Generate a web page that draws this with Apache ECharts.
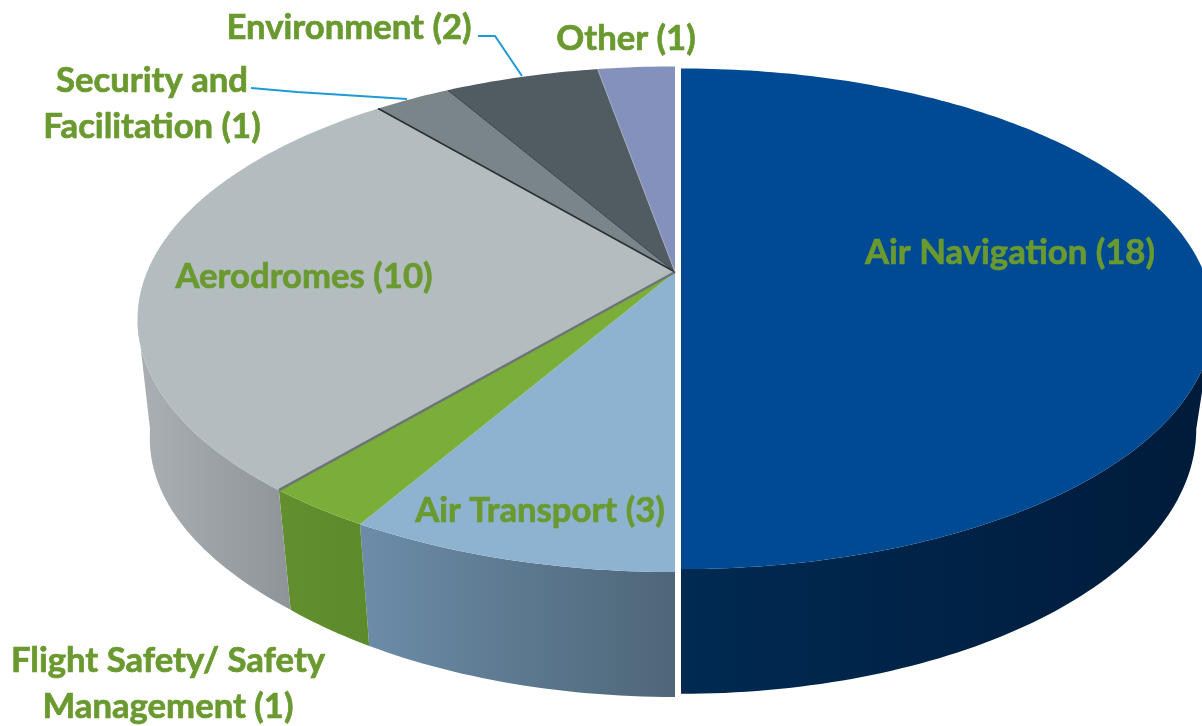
<!DOCTYPE html>
<html>
<head>
<meta charset="utf-8">
<title>Topics</title>
<script src="https://cdn.jsdelivr.net/npm/echarts@6/dist/echarts.min.js"></script>
<style>
    html, body { margin: 0; padding: 0; background: #fff; }
    #main { width: 1202px; height: 726px; }
</style>
</head>
<body>
<div id="main"></div>
<script>
const categories = ['Air Navigation', 'Air Transport', 'Flight Safety/ Safety\nManagement', 'Aerodromes', 'Security and\nFacilitation', 'Environment', 'Other'];
const values = [18, 3, 1, 10, 1, 2, 1];

const topColors = ['#004a94', '#8db3d1', '#7aae38', '#b3bcbf', '#7a858a', '#505b62', '#8491bd'];
const wallColors = [
    ['#002a52', '#001b3a'],
    ['#6c8ca8', '#4e6678'],
    ['#638f2e', '#5d8a2a'],
    ['#abb0b4', '#8e9498'],
    ['#666', '#666'],
    ['#444', '#444'],
    ['#667', '#667']
];
// line on the starting edge of each slice
const edgeColors = [null, null, null, '#6d7478', '#2a3035', '#3a4247', '#a3abbd'];
const edgeWidths = [0, 0, 0, 2.5, 1.6, 1, 1];

// where each label sits, same order as categories
const labelAt = [[1010, 253], [540, 511], [168, 684], [304, 277], [152, 104], [349, 28], [626, 39]];
const leaderLines = [
    [[251, 88], [297, 92], [407, 99]],
    [[478, 36], [495, 36], [522, 76]]
];

// tilted disc: apex of the top face and of the lower rim, with perspective
const topFace = { cx: 675, cy: 272, rx: 528, ry: 244, p: 0.187 };
const bottomFace = { cx: 675, cy: 378.5, rx: 511, ry: 258, p: 0.19 };
const offsetX = [6, 0, 0, 0, 0, 0, 0];
const sliceScale = [0.99, 1, 1, 1, 1, 1, 1];
// lower rim of the left side runs a bit wider than the fitted ellipse
const leftBulge = 7;

const total = values.reduce((a, b) => a + b, 0);

function project(face, deg, i) {
    let a = deg * Math.PI / 180;
    let u = Math.sin(a);
    let v = -Math.cos(a);
    let w = 1 - face.p * v;
    let x = face.cx + offsetX[i] + sliceScale[i] * face.rx * u / w;
    let y = face.cy + sliceScale[i] * face.ry * v / w;
    if (face === bottomFace && deg > 220 && deg < 270) {
        x -= leftBulge * Math.sin(Math.PI * (deg - 220) / 50);
    }
    return [x, y];
}

function arc(face, from, to, i) {
    let pts = [];
    let steps = Math.max(2, Math.ceil(Math.abs(to - from)));
    for (let s = 0; s <= steps; s++) {
        pts.push(project(face, from + (to - from) * s / steps, i));
    }
    return pts;
}

function sliceRange(i) {
    let before = values.slice(0, i).reduce((a, b) => a + b, 0);
    return [before / total * 360, (before + values[i]) / total * 360];
}

function renderWall(params, api) {
    let i = api.value(0);
    let [from, to] = sliceRange(i);
    from = Math.max(from, 101);
    to = Math.min(to, 259);
    if (from >= to) return { type: 'group', children: [] };
    let pts = arc(topFace, from, to, i).concat(arc(bottomFace, to, from, i));
    let xs = pts.map(d => d[0]);
    return {
        type: 'polygon',
        shape: { points: pts },
        style: {
            fill: new echarts.graphic.LinearGradient(Math.min(...xs), 0, Math.max(...xs), 0, [
                { offset: 0, color: wallColors[i][0] },
                { offset: 1, color: wallColors[i][1] }
            ], true)
        }
    };
}

function renderTop(params, api) {
    let i = api.value(0);
    let [from, to] = sliceRange(i);
    let apex = [topFace.cx + offsetX[i], topFace.cy];
    let pts = [apex].concat(arc(topFace, from, to, i));
    return {
        type: 'polygon',
        shape: { points: pts },
        style: { fill: topColors[i] }
    };
}

// edges go on top of every face so the next slice does not hide half of them
function renderEdge(params, api) {
    let i = api.value(0);
    if (!edgeColors[i]) return { type: 'group', children: [] };
    let end = project(topFace, sliceRange(i)[0], i);
    return {
        type: 'line',
        shape: { x1: topFace.cx + offsetX[i], y1: topFace.cy, x2: end[0], y2: end[1] },
        style: { stroke: edgeColors[i], lineWidth: edgeWidths[i] }
    };
}

const seriesData = values.map((v, i) => [i, v]);

const textItems = categories.map((name, i) => ({
    type: 'text',
    x: labelAt[i][0],
    y: labelAt[i][1],
    z: 10,
    style: {
        text: name + ' (' + values[i] + ')',
        fill: '#6a9a2f',
        stroke: '#6a9a2f',
        lineWidth: 0.7,
        font: 'bold 34.7px Lato, sans-serif',
        lineHeight: 46,
        align: 'center',
        verticalAlign: 'middle'
    }
}));

const lineItems = leaderLines.map(points => ({
    type: 'polyline',
    z: 9,
    shape: { points: points },
    style: { stroke: '#1f9ad6', lineWidth: 2, fill: null }
}));

var myChart = echarts.init(document.getElementById('main'), null, { renderer: 'canvas' });

var option = {
    animation: false,
    backgroundColor: '#fff',
    graphic: { elements: lineItems.concat(textItems) },
    series: [
        { type: 'custom', coordinateSystem: 'none', silent: true, clip: false, renderItem: renderWall, data: seriesData },
        { type: 'custom', coordinateSystem: 'none', silent: true, clip: false, renderItem: renderTop, data: seriesData },
        { type: 'custom', coordinateSystem: 'none', silent: true, clip: false, renderItem: renderEdge, data: seriesData }
    ]
};

myChart.setOption(option);
</script>
</body>
</html>
